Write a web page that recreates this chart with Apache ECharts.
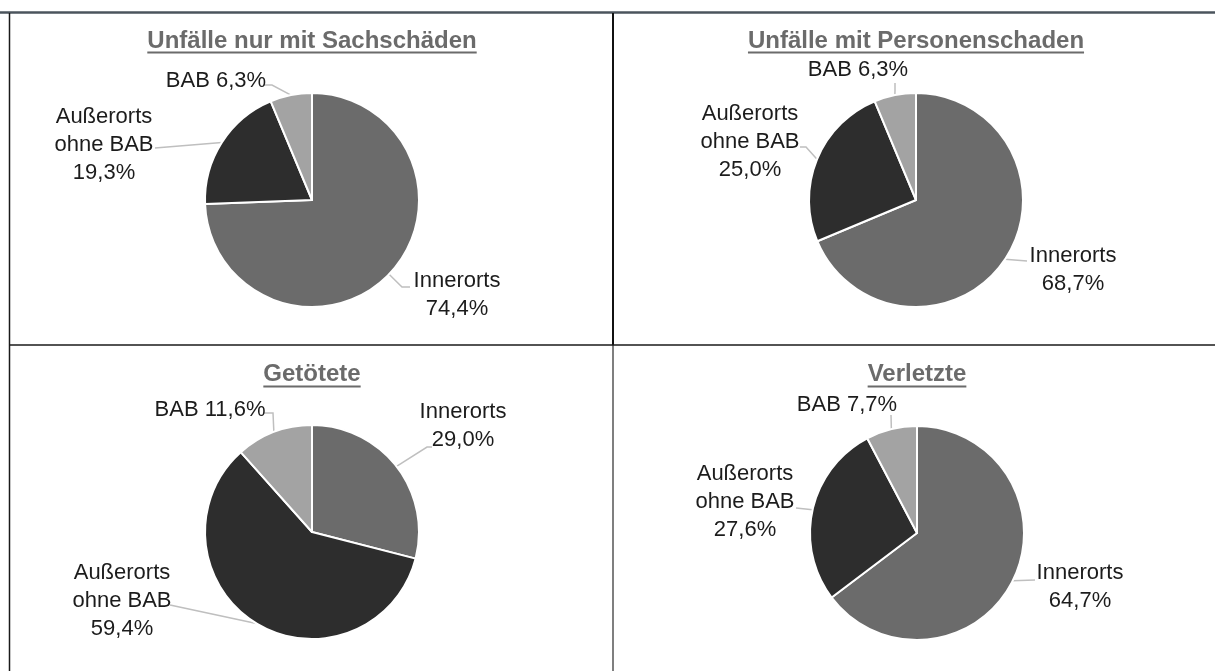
<!DOCTYPE html>
<html>
<head>
<meta charset="utf-8">
<script src="https://cdn.jsdelivr.net/npm/echarts@6/dist/echarts.min.js"></script>
<style>
  html, body { margin: 0; padding: 0; background: #ffffff; }
  #chart { width: 1215px; height: 671px; }
</style>
</head>
<body>
<div id="chart"></div>
<script>
// Unfallstruktur nach Ortslage (Anteile in %)
const categories = ['Innerorts', 'Außerorts ohne BAB', 'BAB'];
const categoryLines = ['Innerorts', 'Außerorts\nohne BAB', 'BAB'];
const panelTitles = ['Unfälle nur mit Sachschäden', 'Unfälle mit Personenschaden', 'Getötete', 'Verletzte'];
const sachschaden = [74.4, 19.3, 6.3];
const personenschaden = [68.7, 25.0, 6.3];
const getoetete = [29.0, 59.4, 11.6];
const verletzte = [64.7, 27.6, 7.7];

const panelValues = [sachschaden, personenschaden, getoetete, verletzte];
const sliceColors = ['#6b6b6b', '#2d2d2d', '#a3a3a3'];

// panel layout: pie centres, title baselines
const panelCenters = [[312, 200], [916, 200], [312, 532], [917, 533]];
const titleMiddles = [41, 374];
const underlineYs = [52.5, 386.5];
const pieRadius = 107;

// label placement relative to the pie centre: text block centre and
// the guide line's bend/end points (the start is the slice's outer edge)
const labelPlacement = [
  [ { t: [145, 95],   line: [[90, 87], [98, 87]] },
    { t: [-208, -55], line: [[-157, -52]] },
    { t: [-96, -119], line: [[-40, -115], [-49, -115]] } ],
  [ { t: [157, 70],   line: [[111, 61]] },
    { t: [-166, -58], line: [[-110, -53], [-116, -53]] },
    { t: [-58, -130], line: [[-21, -117]] } ],
  [ { t: [151, -106], line: [[115, -85], [120, -85]] },
    { t: [-190, 69],  line: [[-142, 73]] },
    { t: [-102, -122], line: [[-39, -119], [-49, -119]] } ],
  [ { t: [163, 54],   line: [[118, 47]] },
    { t: [-172, -31], line: [[-121, -25]] },
    { t: [-70, -128], line: [[-26, -118]] } ]
];

const TITLE_SIZE = 24;
const TITLE_FAMILY = '"Liberation Sans", Arial, sans-serif';
const LABEL_FAMILY = '"Liberation Sans", Arial, sans-serif';
const TITLE_COLOR = '#6b6b6b';

function fmtPct(v) {
  return v.toFixed(1).replace('.', ',') + '%';
}

function measure(text, font) {
  const c = document.createElement('canvas').getContext('2d');
  c.font = font;
  return c.measureText(text).width;
}

// outer-edge point of a slice at its middle angle (start at 12 o'clock, clockwise)
function edgePoint(p, i) {
  const vals = panelValues[p];
  const total = vals.reduce((a, b) => a + b, 0);
  let before = 0;
  for (let k = 0; k < i; k++) before += vals[k];
  const a = (before + vals[i] / 2) / total * Math.PI * 2;
  const c = panelCenters[p];
  return [c[0] + pieRadius * Math.sin(a), c[1] - pieRadius * Math.cos(a)];
}

const chart = echarts.init(document.getElementById('chart'), null, { renderer: 'canvas' });

const series = panelValues.map((vals, p) => ({
  type: 'pie',
  center: panelCenters[p],
  radius: pieRadius,
  startAngle: 90,
  clockwise: true,
  avoidLabelOverlap: false,
  silent: true,
  itemStyle: { borderColor: '#ffffff', borderWidth: 2 },
  label: {
    show: true,
    position: 'outside',
    fontFamily: LABEL_FAMILY,
    fontSize: 22,
    color: '#1c1c1c',
    lineHeight: 28,
    formatter: (d) => {
      const idx = d.dataIndex;
      if (categoryLines[idx] === 'BAB') return '{c|BAB ' + fmtPct(d.value) + '}';
      return categoryLines[idx].split('\n').map(s => '{c|' + s + '}').join('\n') +
        '\n{c|' + fmtPct(d.value) + '}';
    },
    rich: {
      c: { align: 'center', fontFamily: LABEL_FAMILY, fontSize: 22, lineHeight: 28, color: '#1c1c1c' }
    }
  },
  labelLine: {
    show: true,
    length: 12,
    length2: 10,
    lineStyle: { color: '#bfbfbf', width: 1.5 }
  },
  labelLayout: (params) => {
    const place = labelPlacement[p][params.dataIndex];
    const c = panelCenters[p];
    const pts = [edgePoint(p, params.dataIndex)].concat(
      place.line.map(q => [c[0] + q[0], c[1] + q[1]])
    );
    return {
      x: c[0] + place.t[0],
      y: c[1] + place.t[1],
      align: 'center',
      verticalAlign: 'middle',
      labelLinePoints: pts
    };
  },
  data: categories.map((name, i) => ({
    name: name,
    value: vals[i],
    itemStyle: { color: sliceColors[i] }
  }))
}));

// panel titles with underline
const titleFont = 'bold ' + TITLE_SIZE + 'px ' + TITLE_FAMILY;
const titleGraphics = [];
panelTitles.forEach((t, p) => {
  const row = p < 2 ? 0 : 1;
  const cx = panelCenters[p][0];
  const w = measure(t, titleFont);
  titleGraphics.push({
    type: 'text',
    x: cx,
    y: titleMiddles[row],
    style: {
      text: t,
      align: 'center',
      verticalAlign: 'middle',
      font: titleFont,
      fill: TITLE_COLOR
    }
  });
  titleGraphics.push({
    type: 'line',
    shape: { x1: cx - w / 2, y1: underlineYs[row], x2: cx + w / 2, y2: underlineYs[row] },
    style: { stroke: TITLE_COLOR, lineWidth: 2 }
  });
});

// table frame
const frame = [
  { type: 'line', shape: { x1: 0, y1: 12.5, x2: 1215, y2: 12.5 }, style: { stroke: '#4b545d', lineWidth: 2.5 } },
  { type: 'line', shape: { x1: 9.5, y1: 13, x2: 9.5, y2: 671 }, style: { stroke: '#1a1a1a', lineWidth: 1.5 } },
  { type: 'line', shape: { x1: 613, y1: 13, x2: 613, y2: 345 }, style: { stroke: '#111111', lineWidth: 2 } },
  { type: 'line', shape: { x1: 613, y1: 345, x2: 613, y2: 671 }, style: { stroke: '#555555', lineWidth: 1.5 } },
  { type: 'line', shape: { x1: 9, y1: 345, x2: 1215, y2: 345 }, style: { stroke: '#1a1a1a', lineWidth: 1.5 } }
];

chart.setOption({
  backgroundColor: '#ffffff',
  animation: false,
  series: series,
  graphic: frame.concat(titleGraphics)
});
</script>
</body>
</html>
